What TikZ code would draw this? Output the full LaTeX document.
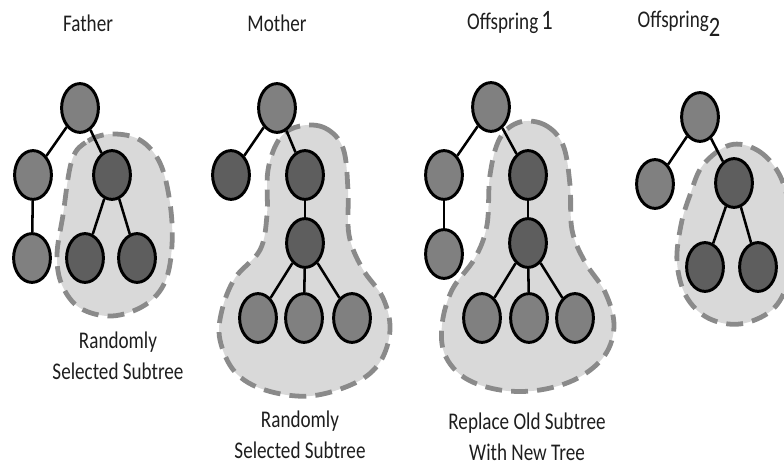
\documentclass[tikz,border=0pt]{standalone}
\usepackage{fontspec}
\setmainfont{Carlito}
\usepackage{xcolor}
\definecolor{treelight}{HTML}{808080}
\definecolor{treedark}{HTML}{5E5E5E}
\definecolor{blobfill}{HTML}{D9D9D9}
\definecolor{blobline}{HTML}{8A8A8A}
\definecolor{labeltext}{HTML}{1E1E1E}
\usepackage{tikz}
\usetikzlibrary{shapes.geometric}
\newcommand{\tallbox}[1]{\scalebox{1}[1.25]{#1}}

\begin{document}
\begin{tikzpicture}[x=0.025cm, y=-0.025cm,
  gene/.style={ellipse, draw=black, line width=2.1pt, fill=treelight,
    minimum width=0.92cm, minimum height=1.22cm, inner sep=0pt},
  genedark/.style={gene, fill=treedark},
  link/.style={draw=black, line width=1.8pt},
  subtree/.style={fill=blobfill, draw=blobline, line width=3.4pt,
    dash pattern=on 12pt off 6.5pt},
  caption/.style={font=\fontsize{13.6}{22}\selectfont, text=labeltext, align=center}
]
\useasboundingbox (0,0) rectangle (784,466);

% Titles
\node[caption] (tf) at (88, 23)  {\tallbox{Father}};
\node[caption] (tm) at (277, 23) {\tallbox{Mother}};
\node[caption] (to1) at (510, 23) {\tallbox{Offspring\,{\fontsize{16}{16}\selectfont 1}}};
\node[caption] (to2) at (679, 24) {\tallbox{Offspring\raisebox{-5pt}{\fontsize{16}{16}\selectfont 2}}};

% Subtree regions
\path[subtree] plot[smooth cycle, tension=0.6] coordinates {(72,160) (88,141) (112,134) (140,140) (160,163) (170,203) (172,245) (165,282) (145,305) (112,316) (80,308) (62,285) (57,255) (63,215)};
\path[subtree] plot[smooth cycle, tension=0.6] coordinates {(300,126) (325,128) (343,148) (348,190) (349,235) (362,268) (383,298) (390,330) (380,362) (355,383) (310,396) (265,390) (235,372) (220,340) (222,310) (235,278) (260,250) (267,215) (268,170) (280,138)};
\path[subtree] plot[smooth cycle, tension=0.6] coordinates {(520,122) (545,125) (563,145) (570,185) (572,230) (585,262) (605,292) (614,325) (605,355) (578,378) (540,390) (500,390) (465,378) (445,355) (442,325) (452,290) (475,258) (487,225) (490,175) (500,138)};
\path[subtree] plot[smooth cycle, tension=0.6] coordinates {(730,145) (757,150) (778,172) (789,205) (792,245) (788,282) (772,310) (740,324) (708,318) (686,296) (677,262) (681,225) (690,195) (703,165)};

% Father
\node[gene] (f1) at (80, 108) {};
\node[gene] (f2) at (33, 175) {};
\node[genedark] (f3) at (112, 175) {};
\node[gene] (f4) at (32, 258) {};
\node[genedark] (f5) at (85, 258) {};
\node[genedark] (f6) at (137, 258) {};
\draw[link] (f1) -- (f2);
\draw[link] (f1) -- (f3);
\draw[link] (f2) -- (f4);
\draw[link] (f3) -- (f5);
\draw[link] (f3) -- (f6);

% Mother
\node[gene] (m1) at (277, 108) {};
\node[genedark] (m2) at (231, 175) {};
\node[genedark] (m3) at (305, 175) {};
\node[genedark] (m4) at (305, 243) {};
\node[gene] (m5) at (258, 318) {};
\node[gene] (m6) at (304, 318) {};
\node[gene] (m7) at (352, 318) {};
\draw[link] (m1) -- (m2);
\draw[link] (m1) -- (m3);
\draw[link] (m3) -- (m4);
\draw[link] (m4) -- (m5);
\draw[link] (m4) -- (m6);
\draw[link] (m4) -- (m7);

% Offspring 1
\node[gene] (a1) at (491, 107) {};
\node[gene] (a2) at (444, 175) {};
\node[genedark] (a3) at (528, 175) {};
\node[gene] (a4) at (444, 254) {};
\node[genedark] (a5) at (528, 243) {};
\node[gene] (a6) at (482, 318) {};
\node[gene] (a7) at (529, 318) {};
\node[gene] (a8) at (575, 318) {};
\draw[link] (a1) -- (a2);
\draw[link] (a1) -- (a3);
\draw[link] (a2) -- (a4);
\draw[link] (a3) -- (a5);
\draw[link] (a5) -- (a6);
\draw[link] (a5) -- (a7);
\draw[link] (a5) -- (a8);

% Offspring 2
\node[gene] (b1) at (700, 117) {};
\node[gene] (b2) at (655, 184) {};
\node[genedark] (b3) at (734, 183) {};
\node[genedark] (b4) at (705, 267) {};
\node[genedark] (b5) at (758, 267) {};
\draw[link] (b1) -- (b2);
\draw[link] (b1) -- (b3);
\draw[link] (b3) -- (b4);
\draw[link] (b3) -- (b5);

% Notes
\node[caption] (nf) at (118, 356) {\tallbox{Randomly}\\\tallbox{Selected Subtree}};
\node[caption] (nm) at (300, 435) {\tallbox{Randomly}\\\tallbox{Selected Subtree}};
\node[caption] (no) at (527, 437) {\tallbox{Replace Old Subtree}\\\tallbox{With New Tree}};
\end{tikzpicture}
\end{document}
